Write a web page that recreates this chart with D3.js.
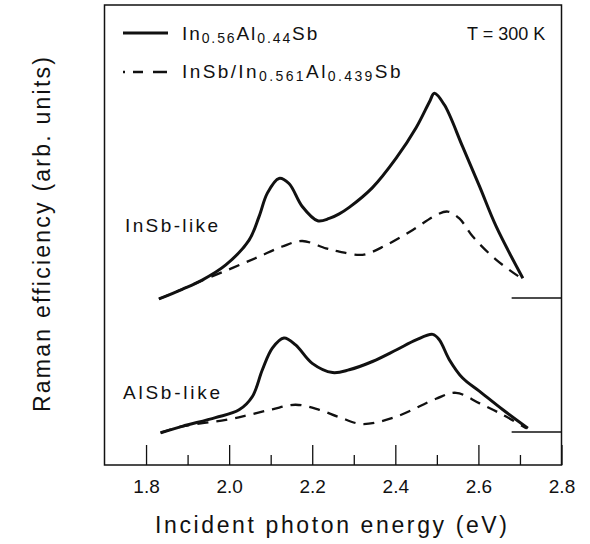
<!DOCTYPE html>
<html>
<head>
<meta charset="utf-8">
<script src="https://cdn.jsdelivr.net/npm/d3@7"></script>
<style>
  html, body { margin: 0; padding: 0; background: #fff; }
  svg { display: block; font-family: "Liberation Sans", Arial, Helvetica, sans-serif; }
  text { fill: #111; }
</style>
</head>
<body>
<svg id="chart" width="590" height="544"></svg>
<script>
// Incident photon energy (eV) tick values
const majorTicks = [1.8, 2.0, 2.2, 2.4, 2.6, 2.8];
const minorTicks = [1.9, 2.1, 2.3, 2.5, 2.7];

// Vertical offsets of the two phonon groups (arb. units)
const offsetInSb = 36.3;
const offsetAlSb = 7.2;

// InSb-like, In0.56Al0.44Sb (solid)
const inSbBulkE = [1.831, 1.887, 1.935, 1.992, 2.048, 2.072, 2.092, 2.120, 2.144, 2.176, 2.213, 2.241, 2.265, 2.289, 2.345, 2.402, 2.450, 2.482, 2.494, 2.518, 2.562, 2.603, 2.643, 2.707];
const inSbBulkV = [-0.2, 1.9, 3.9, 7.2, 12.6, 17.7, 22.8, 26.0, 24.9, 19.9, 16.8, 17.3, 18.3, 19.7, 24.0, 30.4, 37.0, 42.6, 44.5, 42.0, 32.9, 24.2, 15.5, 4.3];

// InSb-like, InSb/In0.561Al0.439Sb (dashed)
const inSbSlE = [1.831, 1.887, 1.927, 2.007, 2.072, 2.128, 2.176, 2.233, 2.265, 2.321, 2.378, 2.442, 2.498, 2.526, 2.554, 2.587, 2.643, 2.703];
const inSbSlV = [-0.2, 1.9, 3.5, 6.5, 9.0, 11.2, 12.4, 10.8, 10.1, 9.4, 11.5, 14.8, 18.0, 18.8, 17.3, 13.3, 8.3, 4.3];

// AlSb-like, In0.56Al0.44Sb (solid)
const alSbBulkE = [1.835, 1.887, 1.967, 2.024, 2.056, 2.080, 2.104, 2.132, 2.160, 2.200, 2.249, 2.289, 2.345, 2.402, 2.450, 2.490, 2.506, 2.530, 2.562, 2.603, 2.659, 2.719];
const alSbBulkV = [-0.2, 1.2, 3.1, 4.8, 7.7, 13.5, 18.2, 20.4, 18.9, 14.9, 12.9, 13.5, 15.3, 17.8, 20.0, 21.2, 20.0, 15.7, 11.7, 8.8, 4.8, 0.8];

// AlSb-like, InSb/In0.561Al0.439Sb (dashed)
const alSbSlE = [1.835, 1.887, 1.992, 2.048, 2.104, 2.160, 2.217, 2.265, 2.321, 2.402, 2.498, 2.546, 2.603, 2.659, 2.715];
const alSbSlV = [-0.2, 1.2, 2.6, 3.7, 4.9, 5.9, 4.8, 3.2, 1.7, 3.3, 7.2, 8.5, 6.2, 3.7, 0.8];

// Start of the zero-level markers at the right edge
const markerStartE = 2.68;

const svg = d3.select("#chart");
const plotLeft = 104.5, plotRight = 561.5, plotTop = 5, plotBottom = 465;

const x = d3.scaleLinear().domain([1.7, 2.8]).range([plotLeft, plotRight]);
const y = d3.scaleLinear().domain([0, 100]).range([plotBottom, plotTop]);

const line = d3.line()
  .x(d => x(d[0]))
  .y(d => y(d[1]))
  .curve(d3.curveCatmullRom.alpha(0.5));

const series = [
  { e: inSbBulkE, v: inSbBulkV, off: offsetInSb, dashed: false },
  { e: inSbSlE, v: inSbSlV, off: offsetInSb, dashed: true },
  { e: alSbBulkE, v: alSbBulkV, off: offsetAlSb, dashed: false },
  { e: alSbSlE, v: alSbSlV, off: offsetAlSb, dashed: true }
];

// Dashed curves first so the solid ones sit on top where they overlap
series.filter(s => s.dashed).concat(series.filter(s => !s.dashed)).forEach(s => {
  const pts = s.e.map((e, i) => [e, s.v[i] + s.off]);
  svg.append("path")
    .attr("d", line(pts))
    .attr("fill", "none")
    .attr("stroke", "#111")
    .attr("stroke-width", s.dashed ? 2.3 : 3)
    .attr("stroke-linejoin", "round")
    .attr("stroke-dasharray", s.dashed ? "11,8" : null);
});

// Zero-level markers
[offsetInSb, offsetAlSb].forEach(o => {
  svg.append("line")
    .attr("x1", x(markerStartE)).attr("x2", x(2.8))
    .attr("y1", y(o)).attr("y2", y(o))
    .attr("stroke", "#111").attr("stroke-width", 1.5);
});

// Frame
svg.append("rect")
  .attr("x", plotLeft).attr("y", plotTop)
  .attr("width", plotRight - plotLeft).attr("height", plotBottom - plotTop)
  .attr("fill", "none").attr("stroke", "#111").attr("stroke-width", 1.5);

// Bottom axis: inward major and minor ticks
const majorAxis = d3.axisBottom(x)
  .tickValues(majorTicks)
  .tickSizeInner(-20).tickSizeOuter(0)
  .tickPadding(14.5)
  .tickFormat(d3.format(".1f"));
const gMajor = svg.append("g").attr("transform", `translate(0,${plotBottom})`).call(majorAxis);
gMajor.select(".domain").remove();
gMajor.selectAll(".tick line").attr("stroke", "#111").attr("stroke-width", 1.3);
gMajor.selectAll(".tick text")
  .attr("font-size", 19).attr("fill", "#111")
  .style("font-family", "'Liberation Sans', Arial, sans-serif");

const minorAxis = d3.axisBottom(x)
  .tickValues(minorTicks)
  .tickSizeInner(-10).tickSizeOuter(0)
  .tickFormat("");
const gMinor = svg.append("g").attr("transform", `translate(0,${plotBottom})`).call(minorAxis);
gMinor.select(".domain").remove();
gMinor.selectAll(".tick line").attr("stroke", "#111").attr("stroke-width", 1.3);

// Axis titles
svg.append("text")
  .attr("x", 155).attr("y", 533)
  .attr("font-size", 23)
  .attr("textLength", 352).attr("lengthAdjust", "spacing")
  .text("Incident photon energy (eV)");

svg.append("text")
  .attr("transform", "translate(50,412) rotate(-90)")
  .attr("font-size", 23)
  .attr("textLength", 355).attr("lengthAdjust", "spacing")
  .text("Raman efficiency (arb. units)");

// Group labels
svg.append("text").attr("x", 125).attr("y", 232).attr("font-size", 19)
  .attr("textLength", 93).attr("lengthAdjust", "spacing").text("InSb-like");
svg.append("text").attr("x", 123).attr("y", 399).attr("font-size", 19)
  .attr("textLength", 97).attr("lengthAdjust", "spacing").text("AlSb-like");

svg.append("text").attr("x", 467).attr("y", 40).attr("font-size", 18)
  .text("T = 300 K");

// Legend
svg.append("line").attr("x1", 123).attr("x2", 168).attr("y1", 33).attr("y2", 33)
  .attr("stroke", "#111").attr("stroke-width", 3);
svg.append("line").attr("x1", 123).attr("x2", 168).attr("y1", 72).attr("y2", 72)
  .attr("stroke", "#111").attr("stroke-width", 2.3)
  .attr("stroke-dasharray", "2,8,10,10,14");

function chemLabel(xPos, yPos, spacing, parts) {
  const t = svg.append("text").attr("x", xPos).attr("y", yPos)
    .attr("font-size", 19).attr("letter-spacing", spacing);
  parts.forEach(p => {
    t.append("tspan")
      .attr("font-size", p.sub ? 14 : 19)
      .attr("dy", p.sub ? 3 : (p.after ? -3 : 0))
      .text(p.t);
  });
}
chemLabel(182, 40, 1.9, [
  { t: "In" }, { t: "0.56", sub: true }, { t: "Al", after: true },
  { t: "0.44", sub: true }, { t: "Sb", after: true }
]);
chemLabel(182, 78, 2.4, [
  { t: "InSb/In" }, { t: "0.561", sub: true }, { t: "Al", after: true },
  { t: "0.439", sub: true }, { t: "Sb", after: true }
]);
</script>
</body>
</html>
